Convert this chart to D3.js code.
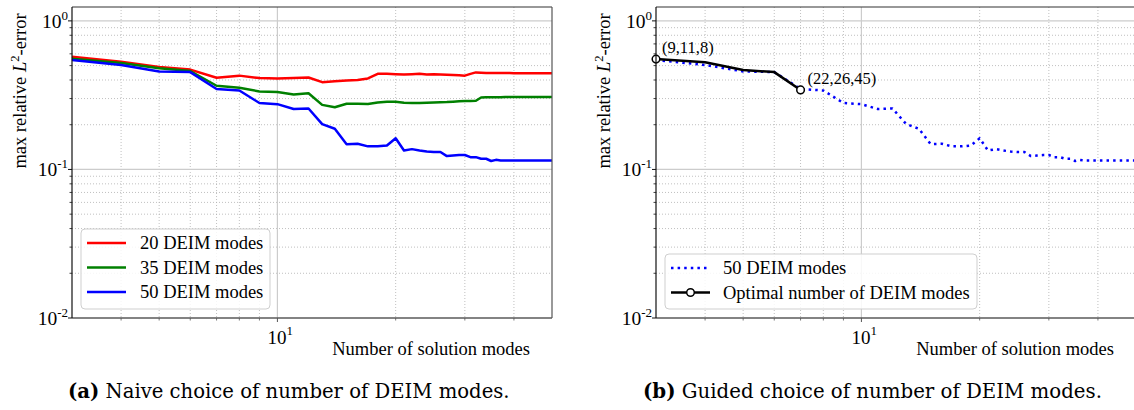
<!DOCTYPE html>
<html>
<head>
<meta charset="utf-8">
<script src="https://cdn.jsdelivr.net/npm/d3@7"></script>
<style>
  body { margin: 0; background: #fff; }
  text { font-family: "Liberation Serif", "Times New Roman", serif; fill: #000; }
  .caption { font-family: "DejaVu Serif", serif; }
</style>
</head>
<body>
<div id="chart"></div>
<script>
// Number of solution modes (x values)
const modes = [3, 4, 5, 6, 7, 8, 9, 10, 11, 12, 13, 14, 15, 16, 17, 18, 19, 20, 21, 22, 23, 24, 25, 26,
  27, 28, 29, 30, 31, 32, 33, 34, 35, 36, 37, 38, 39, 40, 41, 42, 43, 44, 45, 46, 47, 48, 49, 50];

// max relative L2-error, one array per DEIM setting
const deim20 = [0.573, 0.53, 0.49, 0.47, 0.414, 0.428, 0.412, 0.41, 0.413, 0.416, 0.387, 0.392, 0.397, 0.4,
  0.41, 0.44, 0.44, 0.437, 0.435, 0.437, 0.44, 0.436, 0.438, 0.436, 0.434, 0.432, 0.43, 0.428, 0.44, 0.45,
  0.448, 0.446, 0.445, 0.445, 0.445, 0.445, 0.445, 0.444, 0.444, 0.444, 0.444, 0.444, 0.444, 0.444, 0.444,
  0.444, 0.444, 0.444];
const deim35 = [0.555, 0.52, 0.48, 0.46, 0.366, 0.355, 0.335, 0.332, 0.32, 0.326, 0.272, 0.262, 0.277, 0.277,
  0.276, 0.282, 0.285, 0.285, 0.281, 0.28, 0.28, 0.281, 0.282, 0.283, 0.284, 0.286, 0.288, 0.289, 0.289, 0.29,
  0.305, 0.306, 0.306, 0.306, 0.306, 0.307, 0.307, 0.307, 0.307, 0.307, 0.307, 0.307, 0.307, 0.307, 0.307,
  0.307, 0.307, 0.307];
const deim50 = [0.545, 0.505, 0.457, 0.452, 0.348, 0.34, 0.28, 0.275, 0.255, 0.257, 0.202, 0.188, 0.148, 0.149,
  0.143, 0.143, 0.145, 0.162, 0.134, 0.137, 0.134, 0.132, 0.131, 0.131, 0.123, 0.124, 0.125, 0.125, 0.121, 0.121,
  0.118, 0.118, 0.114, 0.116, 0.115, 0.115, 0.115, 0.115, 0.115, 0.115, 0.115, 0.115, 0.115, 0.115, 0.115,
  0.115, 0.115, 0.115];

// Optimal choice path (right panel)
const optModes = [3, 4, 5, 6, 7];
const optError = [0.553, 0.527, 0.467, 0.452, 0.343];
const optLabels = ["(9,11,8)", "(22,26,45)"];

// Tick definitions
const xMajor = [10];
const xMinor = [4, 5, 6, 7, 8, 9, 20, 30, 40];
const yMajor = [0.01, 0.1, 1];
const yMinor = [0.02, 0.03, 0.04, 0.05, 0.06, 0.07, 0.08, 0.09, 0.2, 0.3, 0.4, 0.5, 0.6, 0.7, 0.8, 0.9];
const yTickExp = { 0.01: "-2", 0.1: "-1", 1: "0" };

const captions = [
  { tag: "(a)", text: " Naive choice of number of DEIM modes.", x: 68, width: 442 },
  { tag: "(b)", text: " Guided choice of number of DEIM modes.", x: 643, width: 459 },
];

const W = 1134, H = 410;
const plotTop = 7, plotBottom = 318, plotW = 480;

const svg = d3.select("#chart").append("svg").attr("width", W).attr("height", H);

function drawPanel(left, series, extra) {
  const x = d3.scaleLog().domain([3, 50]).range([left, left + plotW]);
  const y = d3.scaleLog().domain([0.01, 1.24]).range([plotBottom, plotTop]);
  const g = svg.append("g");

  // minor grid (dotted)
  g.selectAll(".gx-minor").data(xMinor).enter().append("line")
    .attr("x1", (d) => x(d)).attr("x2", (d) => x(d)).attr("y1", plotTop).attr("y2", plotBottom)
    .attr("stroke", "#b0b0b0").attr("stroke-width", 0.8).attr("stroke-dasharray", "1,2");
  g.selectAll(".gy-minor").data(yMinor).enter().append("line")
    .attr("x1", left).attr("x2", left + plotW).attr("y1", (d) => y(d)).attr("y2", (d) => y(d))
    .attr("stroke", "#b0b0b0").attr("stroke-width", 0.8).attr("stroke-dasharray", "1,2");
  // major grid
  g.selectAll(".gx-major").data(xMajor).enter().append("line")
    .attr("x1", (d) => x(d)).attr("x2", (d) => x(d)).attr("y1", plotTop).attr("y2", plotBottom)
    .attr("stroke", "#cccccc").attr("stroke-width", 1.2);
  g.selectAll(".gy-major").data(yMajor.slice(1)).enter().append("line")
    .attr("x1", left).attr("x2", left + plotW).attr("y1", (d) => y(d)).attr("y2", (d) => y(d))
    .attr("stroke", "#cccccc").attr("stroke-width", 1.2);

  const line = d3.line().x((d) => x(d[0])).y((d) => y(d[1]));

  series.forEach((s) => {
    g.append("path")
      .datum(s.xs.map((v, i) => [v, s.ys[i]]))
      .attr("d", line)
      .attr("fill", "none")
      .attr("stroke", s.color)
      .attr("stroke-width", 2.5)
      .attr("stroke-linejoin", "round")
      .attr("stroke-dasharray", s.dash || null);
  });

  if (extra) extra(g, x, y);

  // spines
  g.append("line").attr("x1", left).attr("x2", left + plotW).attr("y1", plotTop).attr("y2", plotTop)
    .attr("stroke", "#333").attr("stroke-width", 1.2);
  g.append("line").attr("x1", left + plotW).attr("x2", left + plotW).attr("y1", plotTop).attr("y2", plotBottom)
    .attr("stroke", "#555").attr("stroke-width", 1.2);
  g.append("line").attr("x1", left).attr("x2", left + plotW).attr("y1", plotBottom).attr("y2", plotBottom)
    .attr("stroke", "#5a5a5a").attr("stroke-width", 1.6);
  g.append("line").attr("x1", left).attr("x2", left).attr("y1", plotTop).attr("y2", plotBottom)
    .attr("stroke", "#111").attr("stroke-width", 1.2);

  // y ticks
  g.selectAll(".ty-minor").data(yMinor).enter().append("line")
    .attr("x1", left - 2.5).attr("x2", left).attr("y1", (d) => y(d)).attr("y2", (d) => y(d))
    .attr("stroke", "#111").attr("stroke-width", 0.8);
  g.selectAll(".ty-major").data(yMajor).enter().append("line")
    .attr("x1", left - 4).attr("x2", left).attr("y1", (d) => y(d)).attr("y2", (d) => y(d))
    .attr("stroke", "#111").attr("stroke-width", 1);
  yMajor.forEach((d) => {
    const t = g.append("text").attr("x", left - 4).attr("y", y(d) + 7)
      .attr("text-anchor", "end").style("font-size", "19.5px");
    t.append("tspan").text("10");
    t.append("tspan").attr("dy", -8).style("font-size", "13px").text(yTickExp[d]);
  });

  // x ticks
  g.selectAll(".tx-minor").data(xMinor).enter().append("line")
    .attr("x1", (d) => x(d)).attr("x2", (d) => x(d)).attr("y1", plotBottom).attr("y2", plotBottom + 2.5)
    .attr("stroke", "#555").attr("stroke-width", 0.8);
  g.selectAll(".tx-major").data(xMajor).enter().append("line")
    .attr("x1", (d) => x(d)).attr("x2", (d) => x(d)).attr("y1", plotBottom).attr("y2", plotBottom + 4)
    .attr("stroke", "#555").attr("stroke-width", 1);
  xMajor.forEach((d) => {
    const t = g.append("text").attr("x", x(d) - 10).attr("y", plotBottom + 26).style("font-size", "19px");
    t.append("tspan").text("10");
    t.append("tspan").attr("dy", -9).style("font-size", "13px").text("1");
  });

  // axis labels
  g.append("text").attr("x", left + plotW - 22).attr("y", 355).attr("text-anchor", "end")
    .style("font-size", "18.5px").text("Number of solution modes");

  const yl = g.append("text").attr("transform", `translate(${left - 46},91) rotate(-90)`)
    .attr("text-anchor", "middle").style("font-size", "18.5px");
  yl.append("tspan").text("max relative ");
  yl.append("tspan").style("font-style", "italic").text("L");
  yl.append("tspan").attr("dy", -7).style("font-size", "12.5px").text("2");
  yl.append("tspan").attr("dy", 7).text("-error");

  return { g, x, y };
}

function drawLegend(box, rows) {
  const lg = svg.append("g");
  lg.append("rect").attr("x", box.x).attr("y", box.y).attr("width", box.w).attr("height", box.h)
    .attr("rx", 4).attr("fill", "#fff").attr("fill-opacity", 0.85)
    .attr("stroke", "#cfcfcf").attr("stroke-width", 1);
  rows.forEach((r, i) => {
    const cy = box.first + i * 24.5;
    lg.append("line").attr("x1", box.x + 6).attr("x2", box.x + 45).attr("y1", cy).attr("y2", cy)
      .attr("stroke", r.color).attr("stroke-width", 2.5).attr("stroke-dasharray", r.dash || null);
    if (r.marker) {
      lg.append("circle").attr("cx", box.x + 25.5).attr("cy", cy).attr("r", 3.8)
        .attr("fill", "#fff").attr("stroke", r.color).attr("stroke-width", 1.5);
    }
    lg.append("text").attr("x", box.x + box.textOff).attr("y", cy + 6)
      .style("font-size", "18.5px").text(r.label);
  });
}

// (a) naive choice
drawPanel(72, [
  { xs: modes, ys: deim20, color: "#ff0000" },
  { xs: modes, ys: deim35, color: "#008000" },
  { xs: modes, ys: deim50, color: "#0000ff" },
]);
drawLegend({ x: 81, y: 229, w: 189, h: 80, first: 243, textOff: 59 }, [
  { label: "20 DEIM modes", color: "#ff0000" },
  { label: "35 DEIM modes", color: "#008000" },
  { label: "50 DEIM modes", color: "#0000ff" },
]);

// (b) guided choice
drawPanel(656, [
  { xs: modes, ys: deim50, color: "#0000ff", dash: "2.5,4.1" },
  { xs: optModes, ys: optError, color: "#000000" },
], (g, x, y) => {
  const ends = [0, optModes.length - 1];
  g.selectAll(".opt-marker").data(ends).enter().append("circle")
    .attr("cx", (i) => x(optModes[i])).attr("cy", (i) => y(optError[i])).attr("r", 3.8)
    .attr("fill", "#fff").attr("stroke", "#000").attr("stroke-width", 1.5);
  g.selectAll(".opt-label").data(ends).enter().append("text")
    .attr("x", (i) => x(optModes[i]) + (i === 0 ? 6 : 7))
    .attr("y", (i) => y(optError[i]) - 6)
    .style("font-size", "16.5px")
    .text((i, k) => optLabels[k]);
});
drawLegend({ x: 665, y: 254, w: 312, h: 55, first: 268, textOff: 58 }, [
  { label: "50 DEIM modes", color: "#0000ff", dash: "2.5,4.1" },
  { label: "Optimal number of DEIM modes", color: "#000000", marker: true },
]);

// sub-figure captions, font size fitted to the caption width
captions.forEach((c) => {
  const t = svg.append("text").attr("class", "caption").attr("x", c.x).attr("y", 398).style("font-size", "20px");
  t.append("tspan").style("font-weight", "bold").text(c.tag);
  t.append("tspan").text(c.text);
  const len = t.node().getComputedTextLength();
  t.style("font-size", (20 * c.width / len).toFixed(2) + "px");
});
</script>
</body>
</html>
